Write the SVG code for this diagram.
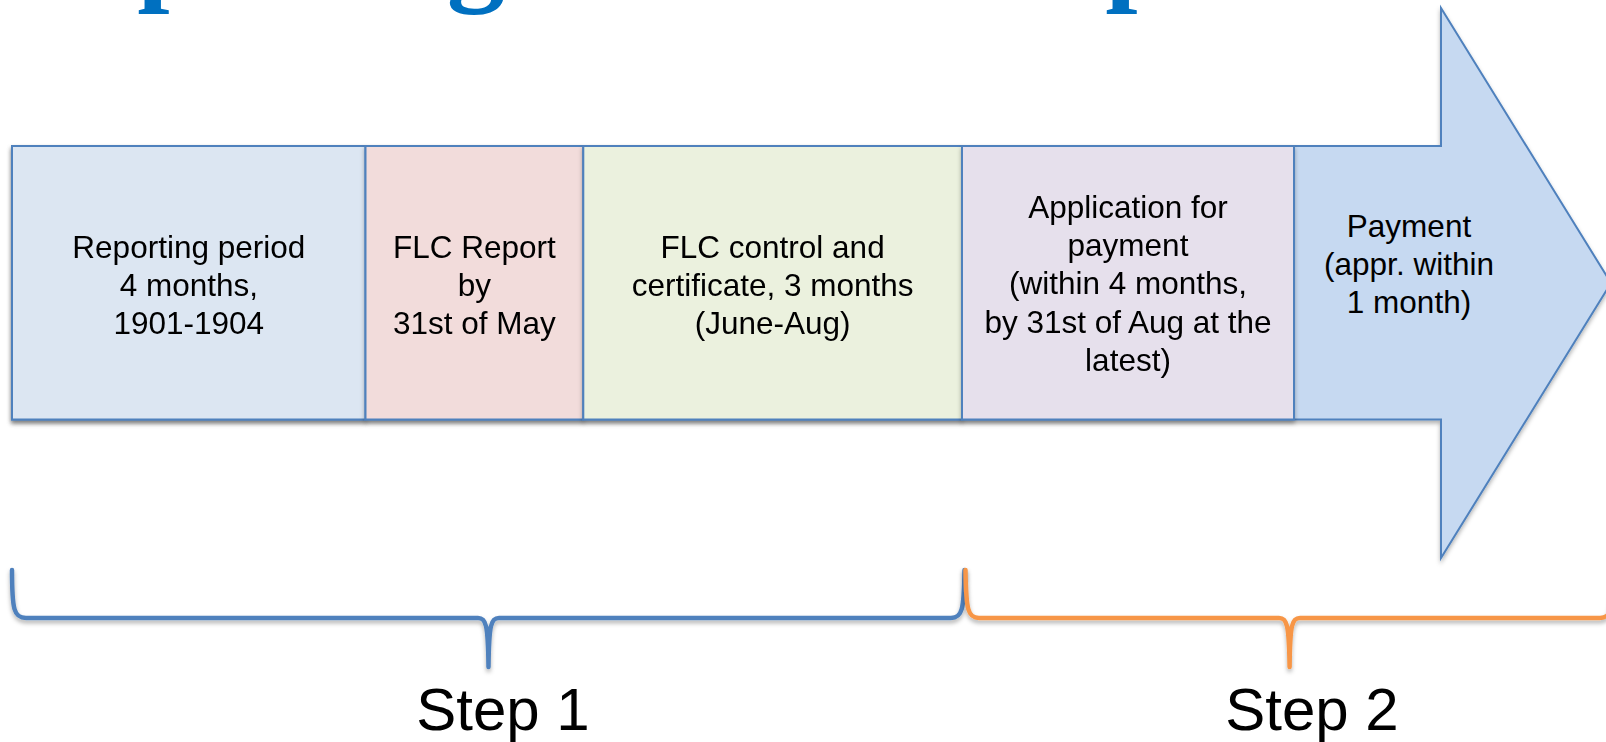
<svg xmlns="http://www.w3.org/2000/svg" width="1606" height="742" viewBox="0 0 1606 742">
<style>
.box{stroke:#4F81BD;stroke-width:2;}
.lbl{font-family:"Liberation Sans",Arial,sans-serif;font-size:31.5px;fill:#000;text-anchor:middle;}
.step{font-family:"Liberation Sans",Arial,sans-serif;font-size:60px;fill:#000;text-anchor:middle;}
.title{font-family:"Liberation Serif","Times New Roman",serif;font-weight:bold;font-size:116px;fill:#0070C0;}
.brace{fill:none;stroke-width:4.5;stroke-linecap:round;stroke-linejoin:round;}
</style>
<defs>
<filter id="sh" x="-5%" y="-10%" width="110%" height="130%">
<feDropShadow dx="0" dy="3" stdDeviation="2" flood-color="#000" flood-opacity="0.3"/>
</filter>
</defs>
<rect width="1606" height="742" fill="#fff"/>
<g id="title">
<text class="title" y="-11"><tspan x="2">Reporting</tspan><tspan x="970">steps</tspan></text>
</g>
<g id="arrow" filter="url(#sh)">
<polygon class="box" fill="#C6D9F1" points="12,146 1441,146 1441,8 1611,283 1441,558 1441,419.5 12,419.5"/>
</g>
<g id="node-reporting" filter="url(#sh)">
<rect class="box" x="12" y="146" width="353.5" height="273.5" fill="#DCE6F2"/>
<text class="lbl" x="188.8"><tspan x="188.8" y="257.5">Reporting period</tspan><tspan x="188.8" y="295.5">4 months,</tspan><tspan x="188.8" y="333.5">1901-1904</tspan></text>
</g>
<g id="node-flc-report" filter="url(#sh)">
<rect class="box" x="365.5" y="146" width="217.8" height="273.5" fill="#F2DCDB"/>
<text class="lbl"><tspan x="474.4" y="257.5">FLC Report</tspan><tspan x="474.4" y="295.5">by</tspan><tspan x="474.4" y="333.5">31st of May</tspan></text>
</g>
<g id="node-flc-control" filter="url(#sh)">
<rect class="box" x="583.3" y="146" width="378.7" height="273.5" fill="#EBF1DE"/>
<text class="lbl"><tspan x="772.6" y="257.5">FLC control and</tspan><tspan x="772.6" y="295.5">certificate, 3 months</tspan><tspan x="772.6" y="333.5">(June-Aug)</tspan></text>
</g>
<g id="node-application" filter="url(#sh)">
<rect class="box" x="962" y="146" width="332" height="273.5" fill="#E6E0EC"/>
<text class="lbl"><tspan x="1128" y="218">Application for</tspan><tspan x="1128" y="256.2">payment</tspan><tspan x="1128" y="294.4">(within 4 months,</tspan><tspan x="1128" y="332.6">by 31st of Aug at the</tspan><tspan x="1128" y="370.8">latest)</tspan></text>
</g>
<g id="node-payment">
<text class="lbl"><tspan x="1409" y="236.5">Payment</tspan><tspan x="1409" y="274.5">(appr. within</tspan><tspan x="1409" y="312.5">1 month)</tspan></text>
</g>
<g id="connectors">
<path class="brace" stroke="#4F81BD" filter="url(#sh)" d="M12,570 C12,610 14,618 26,618 L478,618 C486,618 488,624 488.5,667 C489,624 491,618 499,618 L951,618 C962,618 964,610 964.5,570"/>
<path class="brace" stroke="#F79646" filter="url(#sh)" d="M965.5,570 C966,610 968,618 979,618 L1279,618 C1287,618 1289,624 1289.6,667 C1290,624 1292,618 1300,618 L1600,618 C1611,618 1613,610 1614,570"/>
</g>
<g id="step1"><text class="step" x="503" y="730">Step 1</text></g>
<g id="step2"><text class="step" x="1312" y="730">Step 2</text></g>
</svg>
